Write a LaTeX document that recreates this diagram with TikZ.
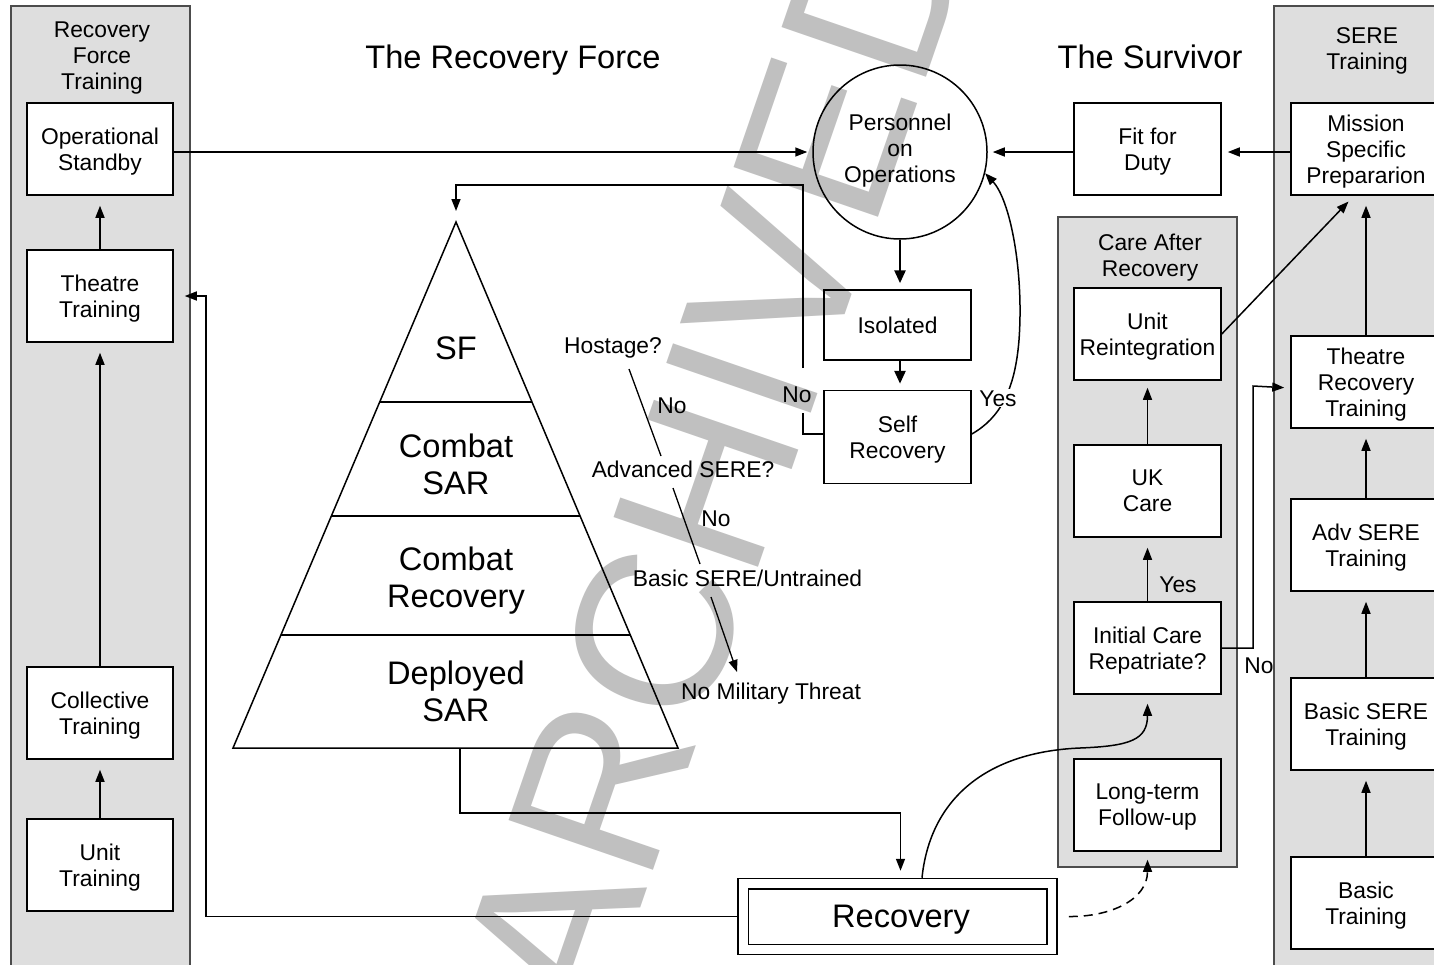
\documentclass[tikz,border=0pt]{standalone}
\usepackage{fontspec}
\setmainfont{Liberation Sans}
\usetikzlibrary{arrows.meta}
\definecolor{panelgray}{RGB}{222,222,222}
\definecolor{wmgray}{RGB}{192,192,192}
\newcommand\fsm{\fontsize{22.8pt}{26pt}\selectfont}
\newcommand\fbig{\fontsize{32.6pt}{37pt}\selectfont}
\newcommand\fwm{\fontsize{222pt}{222pt}\selectfont}
\begin{document}
\begin{tikzpicture}[x=1pt, y=-1pt,
  ln/.style={draw=black, line width=1.5pt},
  fine/.style={draw=black, line width=1.3pt},
  arr/.style={ln, -{Triangle[length=12pt,width=9pt]}},
  finearr/.style={fine, -{Triangle[length=12pt,width=9pt]}},
  tarr/.style={draw=black, line width=2.6pt, -{Triangle[length=13pt,width=11pt]}},
  box/.style={draw=black, line width=1.5pt, fill=white, minimum width=147pt, minimum height=92pt, inner sep=0pt, align=center, font=\fsm, text depth=0pt},
  obox/.style={box, fill=none},
  panel/.style={draw=black!70, line width=1.4pt, fill=panelgray},
  lbl/.style={font=\fsm, inner sep=0pt, anchor=base},
  head/.style={font=\fsm, inner sep=0pt, align=center, text depth=0pt},
  big/.style={font=\fbig, inner sep=0pt, align=center, text depth=0pt},
]
\useasboundingbox (0,0) rectangle (1434,964);
\clip (0,0) rectangle (1434,964);
\fill[white] (0,0) rectangle (1434,964);

% watermark
\node[rotate=71, text=wmgray, inner sep=0pt, font=\fwm] (wmk) at (714,460) {ARCHIVED};

% panels
\path[panel] (11,6) rectangle (190,990);
\path[panel] (1274,6) rectangle (1470,990);
\path[panel] (1058,217) rectangle (1237,867);

% titles
\node[font=\fbig, anchor=base, inner sep=0pt] (t1) at (513,68) {The Recovery Force};
\node[font=\fbig, anchor=base, inner sep=0pt] (t2) at (1150,68) {The Survivor};

% left column
\node[head] (lhead) at (102,55.2) {Recovery\\Force\\Training};
\node[box, minimum width=146pt] (opst) at (100,149) {Operational\\Standby};
\node[box, minimum width=146pt] (thtr) at (100,296) {Theatre\\Training};
\node[box, minimum width=146pt] (coll) at (100,713) {Collective\\Training};
\node[box, minimum width=146pt] (unit) at (100,865) {Unit\\Training};

% right column
\node[head] (rhead) at (1367,48.2) {SERE\\Training};
\node[box, minimum width=150pt] (mission) at (1366,149) {Mission\\Specific\\Prepararion};
\node[box, minimum width=150pt] (trt) at (1366,382) {Theatre\\Recovery\\Training};
\node[box, minimum width=150pt] (adv) at (1366,545) {Adv SERE\\Training};
\node[box, minimum width=150pt] (bsere) at (1366,724) {Basic SERE\\Training};
\node[box, minimum width=150pt] (basic) at (1366,903) {Basic\\Training};

% survivor column
\node[box] (fit) at (1147.5,149) {Fit for\\Duty};
\node[head] (chead) at (1150,254.9) {Care After\\Recovery};
\node[box] (unitre) at (1147.5,334) {Unit\\Reintegration};
\node[box] (ukc) at (1147.5,491) {UK\\Care};
\node[box] (init) at (1147.5,648) {Initial Care\\Repatriate?};
\node[box] (ltf) at (1147.5,805) {Long-term\\Follow-up};

% middle
\node[draw=black, circle, line width=1.5pt, minimum size=174pt, inner sep=0pt] (pers) at (900,152) {};
\node[head] (perstxt) at (900,148) {Personnel\\on\\Operations};
\node[obox, minimum height=70pt] (iso) at (897.5,325) {Isolated};
\node[obox, minimum height=93pt] (self) at (897.5,437) {Self\\Recovery};

% recovery box
\node[draw=black, line width=1.5pt, minimum width=319pt, minimum height=76pt, inner sep=0pt] (rec) at (897.5,916.5) {};
\node[font=\fbig, text depth=0pt, inner sep=0pt] (rectxt) at (901,916.5) {Recovery};
\draw[ln] ([shift={(11,11)}]rec.north west) rectangle ([shift={(-11,-11)}]rec.south east);

% pyramid
\coordinate (apex) at (456,222);
\coordinate (pbl) at (233,748);
\coordinate (pbr) at (678,748);
\coordinate (pb) at (460,748);
\draw[ln, line join=miter] (apex) -- (pbl) -- (pbr) -- cycle;
\draw[ln] (379.7,402) -- (532,402);
\draw[ln] (331.4,516) -- (580.1,516);
\draw[ln] (280.9,635) -- (630.3,635);
\node[font=\fbig, anchor=base, inner sep=0pt] (sf) at (456,359) {SF};
\node[big] (csar) at (456,463.75) {Combat\\SAR};
\node[big] (crec) at (456,576.75) {Combat\\Recovery};
\node[big] (dsar) at (456,690.75) {Deployed\\SAR};

% decision labels
\node[lbl] (hostage) at (613,353) {Hostage?};
\node[lbl] (no1) at (672,413) {No};
\node[lbl] (advq) at (683,477) {Advanced SERE?};
\node[lbl] (no2) at (716,526) {No};
\node[lbl] (basq) at (747.5,586) {Basic SERE/Untrained};
\node[lbl] (nmt) at (771,699) {No Military Threat};
\node[lbl] (no3) at (797,402) {No};
\node[lbl] (yes2) at (1178,592) {Yes};
\node[lbl] (no4) at (1259,673) {No};

\coordinate (h1) at (629,369);
\coordinate (h2) at (661,456);
\coordinate (h3) at (673,488);
\coordinate (h4) at (700,564);
\coordinate (h5) at (711,597);
\coordinate (h6) at (737,672);
\draw[fine] (h1) -- (h2);
\draw[fine] (h3) -- (h4);
\draw[finearr] (h5) -- (h6);

% left column arrows
\draw[arr, shorten >=10pt] (unit.north) -- (coll.south);
\draw[arr, shorten >=10pt] (coll.north) -- (thtr.south);
\draw[arr, shorten >=10pt] (thtr.north) -- (opst.south);

% right column arrows
\draw[arr, shorten >=10pt] (basic.north) -- (bsere.south);
\draw[arr, shorten >=10pt] (bsere.north) -- (adv.south);
\draw[arr, shorten >=10pt] (adv.north) -- (trt.south);
\draw[arr, shorten >=10pt] (trt.north) -- (mission.south);

% horizontal arrows to personnel
\draw[arr, shorten >=5pt] (opst.east |- pers.west) -- (pers.west);
\draw[arr, shorten >=5pt] (fit.west |- pers.east) -- (pers.east);
\draw[arr, shorten >=6pt] (mission.west |- pers.east) -- (fit.east |- pers.east);

% personnel -> isolated -> self recovery
\draw[tarr, shorten >=6pt] (pers.south) -- (pers.south |- iso.north);
\draw[tarr, shorten >=6pt] ([xshift=2.5pt]iso.south) -- ([xshift=2.5pt]self.north);

% self recovery: No branch to pyramid
\coordinate (nb1) at (803,413);
\coordinate (nb2) at (803,368);
\draw[ln] ([yshift=3pt]self.west) -| (nb1);
\draw[arr, shorten >=11pt] (nb2) -- (803,185) -| (apex);

% self recovery: Yes branch back to personnel
\draw[ln, -{Triangle[length=12pt,width=9pt]}] ([yshift=3pt]self.east) .. controls (1000,418) and (1015,390) .. (1019,340) .. controls (1024,270) and (1010,200) .. (pers.-14);
\node[lbl, fill=white, inner sep=1pt] (yes1) at (998,406) {Yes};

% care after recovery arrows
\draw[arr, shorten >=7pt] (ukc.north) -- (unitre.south);
\draw[arr, shorten >=10pt] (init.north) -- (ukc.south);
\draw[arr, shorten >=8pt] (unitre.east) -- ([xshift=-12pt]mission.south);
\draw[arr, shorten >=6pt] (init.east) -- (1253,648) -- (1253,386) -- ([yshift=-6pt]trt.west);

% pyramid -> recovery
\draw[arr, shorten >=7pt] (pb) -- (460,813) -| ([xshift=3pt]rec.north);
% recovery -> theatre training
\draw[arr, shorten >=11pt] (rec.west) -- (206,916.5) |- (thtr.east);
% recovery -> initial care
\draw[arr, shorten >=9pt] ([xshift=24.5pt]rec.north) .. controls (930,800) and (985,752) .. (1080,748) .. controls (1130,746) and (1147.5,740) .. (init.south);
% recovery -> long-term follow-up (dashed)
\draw[arr, dash pattern=on 9pt off 6pt, shorten >=8pt] ([xshift=11pt]rec.east) .. controls (1110,917) and (1147.5,900) .. (ltf.south);
\end{tikzpicture}
\end{document}
